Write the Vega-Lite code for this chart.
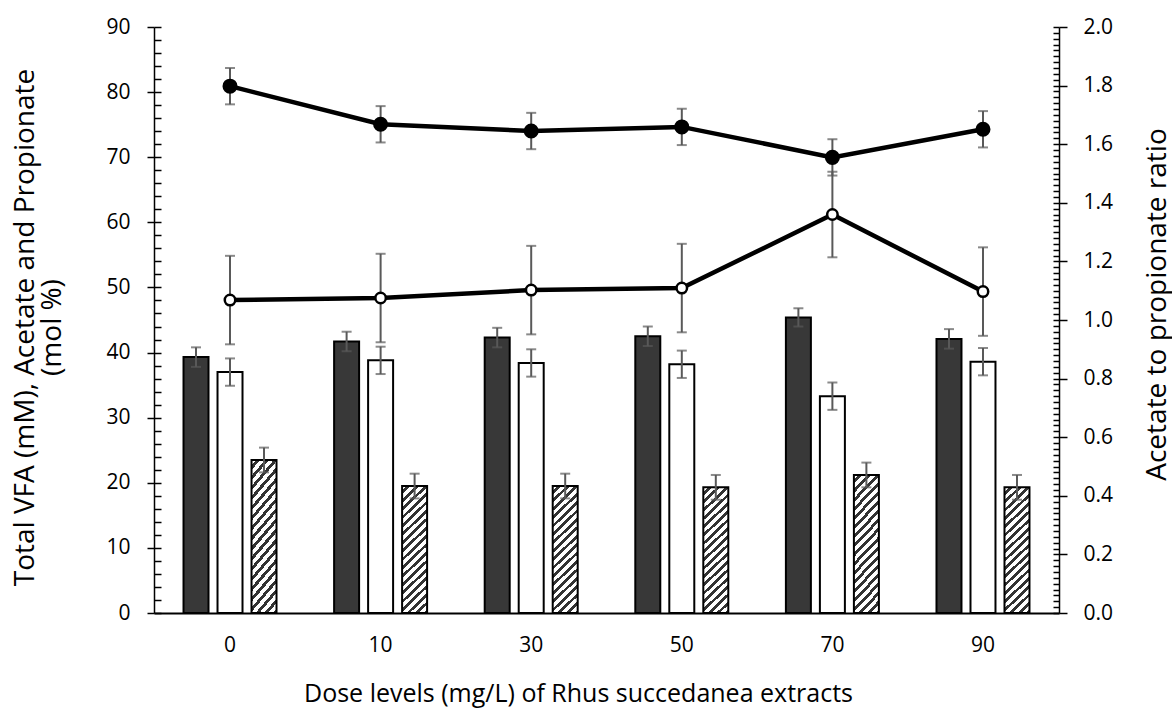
{
  "$schema": "https://vega.github.io/schema/vega-lite/v6.json",
  "width": 905,
  "height": 586,
  "autosize": "none",
  "padding": {"left": 154, "top": 27, "right": 113, "bottom": 98},
  "config": {
    "font": "Open Sans",
    "view": {"stroke": null},
    "axis": {"grid": false, "labelColor": "#000", "titleColor": "#000", "titleFontWeight": "normal", "domainColor": "#000", "tickColor": "#000"}
  },
  "datasets": {
    "bars": [
      {"dose": "0", "series": "TVFA", "value": 39.3, "lo": 37.8, "hi": 40.8},
      {"dose": "0", "series": "Acetate", "value": 37.0, "lo": 34.9, "hi": 39.1},
      {"dose": "0", "series": "Propionate", "value": 23.5, "lo": 21.6, "hi": 25.4},
      {"dose": "10", "series": "TVFA", "value": 41.7, "lo": 40.2, "hi": 43.2},
      {"dose": "10", "series": "Acetate", "value": 38.8, "lo": 36.7, "hi": 40.9},
      {"dose": "10", "series": "Propionate", "value": 19.5, "lo": 17.6, "hi": 21.4},
      {"dose": "30", "series": "TVFA", "value": 42.3, "lo": 40.8, "hi": 43.8},
      {"dose": "30", "series": "Acetate", "value": 38.4, "lo": 36.3, "hi": 40.5},
      {"dose": "30", "series": "Propionate", "value": 19.5, "lo": 17.6, "hi": 21.4},
      {"dose": "50", "series": "TVFA", "value": 42.5, "lo": 41.0, "hi": 44.0},
      {"dose": "50", "series": "Acetate", "value": 38.2, "lo": 36.1, "hi": 40.3},
      {"dose": "50", "series": "Propionate", "value": 19.3, "lo": 17.4, "hi": 21.2},
      {"dose": "70", "series": "TVFA", "value": 45.4, "lo": 44.0, "hi": 46.8},
      {"dose": "70", "series": "Acetate", "value": 33.3, "lo": 31.2, "hi": 35.4},
      {"dose": "70", "series": "Propionate", "value": 21.2, "lo": 19.3, "hi": 23.1},
      {"dose": "90", "series": "TVFA", "value": 42.1, "lo": 40.6, "hi": 43.6},
      {"dose": "90", "series": "Acetate", "value": 38.6, "lo": 36.5, "hi": 40.7},
      {"dose": "90", "series": "Propionate", "value": 19.3, "lo": 17.4, "hi": 21.2}
    ],
    "lines": [
      {"dose": "0", "series": "ratio1", "ratio": 1.798, "lo": 1.736, "hi": 1.860},
      {"dose": "10", "series": "ratio1", "ratio": 1.668, "lo": 1.606, "hi": 1.730},
      {"dose": "30", "series": "ratio1", "ratio": 1.645, "lo": 1.583, "hi": 1.707},
      {"dose": "50", "series": "ratio1", "ratio": 1.659, "lo": 1.597, "hi": 1.721},
      {"dose": "70", "series": "ratio1", "ratio": 1.555, "lo": 1.493, "hi": 1.617},
      {"dose": "90", "series": "ratio1", "ratio": 1.651, "lo": 1.589, "hi": 1.713},
      {"dose": "0", "series": "ratio2", "ratio": 1.068, "lo": 0.917, "hi": 1.219},
      {"dose": "10", "series": "ratio2", "ratio": 1.075, "lo": 0.924, "hi": 1.226},
      {"dose": "30", "series": "ratio2", "ratio": 1.102, "lo": 0.951, "hi": 1.253},
      {"dose": "50", "series": "ratio2", "ratio": 1.109, "lo": 0.958, "hi": 1.260},
      {"dose": "70", "series": "ratio2", "ratio": 1.360, "lo": 1.214, "hi": 1.506},
      {"dose": "90", "series": "ratio2", "ratio": 1.097, "lo": 0.946, "hi": 1.248}
    ]
  },
  "encoding": {
    "x": {
      "field": "dose", "type": "nominal", "sort": ["0", "10", "30", "50", "70", "90"],
      "scale": {"paddingInner": 0.3825, "paddingOuter": 0.196},
      "axis": {"title": "Dose levels (mg/L) of Rhus succedanea extracts", "ticks": false, "tickSize": 0, "labelAngle": 0, "labelFontSize": 21, "labelPadding": 21, "domainWidth": 2, "titleFontSize": 25, "titleX": 424, "titleY": 80, "titleAlign": "center", "titleBaseline": "middle"}
    }
  },
  "layer": [
    {
      "data": {"name": "bars"},
      "encoding": {
        "xOffset": {"field": "series", "type": "nominal", "scale": {"domain": ["TVFA", "Acetate", "Propionate"], "paddingInner": 0.265, "paddingOuter": 0}},
        "y": {"field": "value", "type": "quantitative", "scale": {"domain": [0, 90], "nice": false},
          "axis": {"orient": "left", "values": [0, 10, 20, 30, 40, 50, 60, 70, 80, 90], "tickSize": 7, "tickWidth": 1.5, "domainWidth": 1.5, "labelFontSize": 21, "labelPadding": 17,
            "title": ["Total VFA (mM), Acetate and Propionate", "(mol %)"], "titleFontSize": 28, "titleAngle": 270, "titleX": -129, "titleY": 300, "titleAlign": "center", "titleBaseline": "middle", "titleLineHeight": 27}}
      },
      "layer": [
        {"transform": [{"filter": "datum.series === 'TVFA'"}], "mark": {"type": "bar", "fill": "#383838", "stroke": "#000", "strokeWidth": 2}},
        {"transform": [{"filter": "datum.series === 'Acetate'"}], "mark": {"type": "bar", "fill": "#ffffff", "stroke": "#000", "strokeWidth": 2}},
        {"transform": [{"filter": "datum.series === 'Propionate'"}], "mark": {"type": "bar", "stroke": "#000", "strokeWidth": 2,
          "fill": {"gradient": "linear", "x1": 0, "y1": 0, "x2": 0.2185, "y2": 1.15, "stops": [
            {"offset": 0, "color": "#ffffff"}, {"offset": 0.0306, "color": "#ffffff"}, {"offset": 0.0306, "color": "#333333"}, {"offset": 0.0556, "color": "#333333"},
            {"offset": 0.0556, "color": "#ffffff"}, {"offset": 0.0861, "color": "#ffffff"}, {"offset": 0.0861, "color": "#333333"}, {"offset": 0.1111, "color": "#333333"},
            {"offset": 0.1111, "color": "#ffffff"}, {"offset": 0.1417, "color": "#ffffff"}, {"offset": 0.1417, "color": "#333333"}, {"offset": 0.1667, "color": "#333333"},
            {"offset": 0.1667, "color": "#ffffff"}, {"offset": 0.1972, "color": "#ffffff"}, {"offset": 0.1972, "color": "#333333"}, {"offset": 0.2222, "color": "#333333"},
            {"offset": 0.2222, "color": "#ffffff"}, {"offset": 0.2528, "color": "#ffffff"}, {"offset": 0.2528, "color": "#333333"}, {"offset": 0.2778, "color": "#333333"},
            {"offset": 0.2778, "color": "#ffffff"}, {"offset": 0.3083, "color": "#ffffff"}, {"offset": 0.3083, "color": "#333333"}, {"offset": 0.3333, "color": "#333333"},
            {"offset": 0.3333, "color": "#ffffff"}, {"offset": 0.3639, "color": "#ffffff"}, {"offset": 0.3639, "color": "#333333"}, {"offset": 0.3889, "color": "#333333"},
            {"offset": 0.3889, "color": "#ffffff"}, {"offset": 0.4194, "color": "#ffffff"}, {"offset": 0.4194, "color": "#333333"}, {"offset": 0.4444, "color": "#333333"},
            {"offset": 0.4444, "color": "#ffffff"}, {"offset": 0.4750, "color": "#ffffff"}, {"offset": 0.4750, "color": "#333333"}, {"offset": 0.5, "color": "#333333"},
            {"offset": 0.5, "color": "#ffffff"}, {"offset": 0.5306, "color": "#ffffff"}, {"offset": 0.5306, "color": "#333333"}, {"offset": 0.5556, "color": "#333333"},
            {"offset": 0.5556, "color": "#ffffff"}, {"offset": 0.5861, "color": "#ffffff"}, {"offset": 0.5861, "color": "#333333"}, {"offset": 0.6111, "color": "#333333"},
            {"offset": 0.6111, "color": "#ffffff"}, {"offset": 0.6417, "color": "#ffffff"}, {"offset": 0.6417, "color": "#333333"}, {"offset": 0.6667, "color": "#333333"},
            {"offset": 0.6667, "color": "#ffffff"}, {"offset": 0.6972, "color": "#ffffff"}, {"offset": 0.6972, "color": "#333333"}, {"offset": 0.7222, "color": "#333333"},
            {"offset": 0.7222, "color": "#ffffff"}, {"offset": 0.7528, "color": "#ffffff"}, {"offset": 0.7528, "color": "#333333"}, {"offset": 0.7778, "color": "#333333"},
            {"offset": 0.7778, "color": "#ffffff"}, {"offset": 0.8083, "color": "#ffffff"}, {"offset": 0.8083, "color": "#333333"}, {"offset": 0.8333, "color": "#333333"},
            {"offset": 0.8333, "color": "#ffffff"}, {"offset": 0.8639, "color": "#ffffff"}, {"offset": 0.8639, "color": "#333333"}, {"offset": 0.8889, "color": "#333333"},
            {"offset": 0.8889, "color": "#ffffff"}, {"offset": 0.9194, "color": "#ffffff"}, {"offset": 0.9194, "color": "#333333"}, {"offset": 0.9444, "color": "#333333"},
            {"offset": 0.9444, "color": "#ffffff"}, {"offset": 0.9750, "color": "#ffffff"}, {"offset": 0.9750, "color": "#333333"}, {"offset": 1, "color": "#333333"}
          ]}}}
      ]
    },
    {
      "data": {"name": "bars"},
      "encoding": {
        "xOffset": {"field": "series", "type": "nominal", "scale": {"domain": ["TVFA", "Acetate", "Propionate"], "paddingInner": 0.265, "paddingOuter": 0}},
        "y": {"field": "lo", "type": "quantitative", "scale": {"domain": [0, 90], "nice": false},
          "axis": {"orient": "left", "values": [0, 2, 4, 6, 8, 10, 12, 14, 16, 18, 20, 22, 24, 26, 28, 30, 32, 34, 36, 38, 40, 42, 44, 46, 48, 50, 52, 54, 56, 58, 60, 62, 64, 66, 68, 70, 72, 74, 76, 78, 80, 82, 84, 86, 88, 90], "tickSize": -7, "tickWidth": 1.5, "labels": false, "domain": false, "title": null}}
      },
      "layer": [
        {"mark": {"type": "rule", "color": "#595959", "strokeWidth": 2}, "encoding": {"y2": {"field": "hi"}}},
        {"mark": {"type": "tick", "color": "#595959", "thickness": 2, "size": 10}},
        {"mark": {"type": "tick", "color": "#595959", "thickness": 2, "size": 10}, "encoding": {"y": {"field": "hi", "type": "quantitative"}}}
      ]
    },
    {
      "data": {"name": "lines"},
      "encoding": {
        "y": {"field": "lo", "type": "quantitative", "scale": {"domain": [0, 2], "nice": false},
          "axis": {"orient": "right", "values": [0, 0.02, 0.04, 0.06, 0.08, 0.1, 0.12, 0.14, 0.16, 0.18, 0.2, 0.22, 0.24, 0.26, 0.28, 0.3, 0.32, 0.34, 0.36, 0.38, 0.4, 0.42, 0.44, 0.46, 0.48, 0.5, 0.52, 0.54, 0.56, 0.58, 0.6, 0.62, 0.64, 0.66, 0.68, 0.7, 0.72, 0.74, 0.76, 0.78, 0.8, 0.82, 0.84, 0.86, 0.88, 0.9, 0.92, 0.94, 0.96, 0.98, 1, 1.02, 1.04, 1.06, 1.08, 1.1, 1.12, 1.14, 1.16, 1.18, 1.2, 1.22, 1.24, 1.26, 1.28, 1.3, 1.32, 1.34, 1.36, 1.38, 1.4, 1.42, 1.44, 1.46, 1.48, 1.5, 1.52, 1.54, 1.56, 1.58, 1.6, 1.62, 1.64, 1.66, 1.68, 1.7, 1.72, 1.74, 1.76, 1.78, 1.8, 1.82, 1.84, 1.86, 1.88, 1.9, 1.92, 1.94, 1.96, 1.98, 2], "tickSize": -6, "tickWidth": 1.5, "labels": false, "domain": false, "title": null}}
      },
      "layer": [
        {"mark": {"type": "rule", "color": "#595959", "strokeWidth": 2}, "encoding": {"y2": {"field": "hi"}}},
        {"mark": {"type": "tick", "color": "#595959", "thickness": 2, "size": 10}},
        {"mark": {"type": "tick", "color": "#595959", "thickness": 2, "size": 10}, "encoding": {"y": {"field": "hi", "type": "quantitative"}}}
      ]
    },
    {
      "data": {"name": "lines"},
      "encoding": {
        "y": {"field": "ratio", "type": "quantitative", "scale": {"domain": [0, 2], "nice": false},
          "axis": {"orient": "right", "values": [0, 0.2, 0.4, 0.6, 0.8, 1, 1.2, 1.4, 1.6, 1.8, 2], "format": ".1f", "tickSize": 8, "tickWidth": 1.5, "domainWidth": 1.5, "labelFontSize": 21, "labelPadding": 16,
            "title": "Acetate to propionate ratio", "titleFontSize": 28, "titleAngle": 270, "titleX": 98, "titleY": 277, "titleAlign": "center", "titleBaseline": "middle"}}
      },
      "layer": [
        {"mark": {"type": "line", "color": "#000", "strokeWidth": 4.5}, "encoding": {"detail": {"field": "series"}}},
        {"transform": [{"filter": "datum.series === 'ratio1'"}], "mark": {"type": "point", "filled": true, "fill": "#000", "stroke": "#000", "opacity": 1, "size": 170}},
        {"transform": [{"filter": "datum.series === 'ratio2'"}], "mark": {"type": "point", "filled": true, "fill": "#fff", "stroke": "#000", "strokeWidth": 2.5, "opacity": 1, "size": 110}}
      ]
    }
  ],
  "resolve": {"scale": {"y": "independent"}, "axis": {"y": "independent"}}
}
